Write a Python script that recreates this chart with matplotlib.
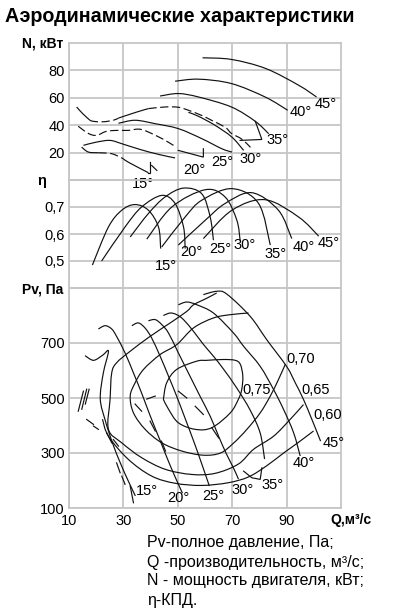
import matplotlib
matplotlib.use("Agg")
import matplotlib.pyplot as plt
from matplotlib.path import Path
from matplotlib.patches import PathPatch

plt.rcParams['font.family'] = ['Liberation Sans', 'DejaVu Sans']

# ---------------- axes / ticks ----------------
Q_LIM = (10, 110)
Q_TICKS = [10, 30, 50, 70, 90]
Q_TICK_LABELS = ['10', '30', '50', '70', '90']
N_LIM = (0, 100)
N_TICKS = [20, 40, 60, 80]
ETA_LIM = (0.4, 0.8)
ETA_TICKS = [0.5, 0.6, 0.7]
ETA_TICK_LABELS = ['0,5', '0,6', '0,7']
PV_LIM = (100, 900)
PV_TICKS = [100, 300, 500, 700]

TITLE = 'Аэродинамические характеристики'
NOTES = ['Pv-полное давление, Па;', 'Q -производительность, м³/с;',
         'N - мощность двигателя, кВт;', 'η-КПД.']

ANGLES = ['15°', '20°', '25°', '30°', '35°', '40°', '45°']

# ---------------- power N(Q) ----------------
n45_q = [59.1, 69.7, 82.3, 94.4, 101.0]
n45_n = [89.2, 88.0, 81.4, 69.2, 60.6]
n40_q = [49.0, 57.6, 69.7, 82.1, 90.4]
n40_n = [72.1, 73.6, 70.4, 60.6, 50.9]
n35_q = [43.5, 50.2, 57.6, 69.7, 78.5, 83.4]
n35_n = [61.3, 63.1, 60.6, 53.3, 42.8, 33.8]
n35_box_q = [78.5, 80.9, 72.9]
n35_box_n = [42.8, 29.6, 28.9]
# long curve with dip (solid / dashed pieces)
n30a_q = [12.8, 15.0, 17.7]
n30a_n = [53.3, 48.5, 43.6]
n30b_q = [17.7, 19.0, 22.6, 26.3, 28.2]
n30b_n = [43.6, 42.8, 42.5, 43.6, 45.2]
n30c_q = [28.2, 34.9, 39.2]
n30c_n = [45.2, 49.6, 52.1]
n30d_q = [39.2, 45.3, 50.2, 53.9, 58.7, 62.4, 67.5, 69.7, 73.1, 75.3, 76.7]
n30d_n = [52.1, 53.3, 53.1, 50.9, 47.2, 43.6, 38.4, 34.0, 30.4, 26.7, 23.8]
n30e_q = [53.9, 57.6, 63.7, 69.9, 74.2]
n30e_n = [49.4, 46.5, 39.9, 31.3, 21.6]
n25_q = [28.2, 34.3, 41.7, 50.2, 58.8, 66.2, 69.9]
n25_n = [41.4, 43.6, 41.1, 37.5, 30.2, 22.8, 20.4]
n25d_q = [13.4, 17.1, 20.1, 23.7, 27.4, 31.8, 36.3, 41.8, 46.6, 49.5]
n25d_n = [39.2, 34.0, 32.6, 35.5, 36.2, 36.2, 37.0, 32.6, 27.5, 23.8]
n20_q = [15.3, 20.2, 25.1, 29.4, 36.1, 42.9, 49.0]
n20_n = [25.3, 27.7, 28.9, 26.5, 22.3, 18.7, 16.1]
n20_box_q = [50.2, 59.4, 59.4]
n20_box_n = [21.6, 16.7, 22.8]
n20_tail_q = [40.4, 42.3]
n20_tail_n = [10.6, 7.0]
n15a_q = [14.65, 17.1, 20.8]
n15a_n = [24.0, 20.4, 19.9]
n15b_q = [20.8, 25.7, 30.0]
n15b_n = [19.9, 19.2, 15.5]
n15c_q = [30.0, 31.8, 39.2]
n15c_n = [15.5, 13.0, 5.3]
n15_box_q = [39.2, 39.6, 39.6]
n15_box_n = [5.3, 5.3, 13.0]
n_lab_q = [37.0, 56.1, 66.2, 76.6, 86.7, 95.3, 104.5]
n_lab_n = [-2.9, 7.0, 13.2, 15.4, 28.9, 49.8, 55.6]

# ---------------- efficiency eta(Q) ----------------
e15_q = [18.6, 24.5, 29.4, 34.3, 39.2, 42.9, 43.7]
e15_e = [0.485, 0.626, 0.688, 0.709, 0.688, 0.626, 0.546]
e20_q = [22.0, 30.6, 36.7, 44.1, 49.0, 52.1, 52.7]
e20_e = [0.500, 0.626, 0.700, 0.743, 0.713, 0.626, 0.546]
e25_q = [32.5, 39.2, 45.3, 52.1, 58.8, 61.9, 63.1]
e25_e = [0.589, 0.676, 0.737, 0.770, 0.749, 0.663, 0.577]
e30_q = [38.6, 47.8, 60.1, 67.4, 71.7, 72.9]
e30_e = [0.581, 0.700, 0.764, 0.737, 0.651, 0.577]
e35_q = [44.1, 52.7, 58.8, 69.9, 79.7, 84.0]
e35_e = [0.552, 0.663, 0.725, 0.768, 0.713, 0.559]
e40_q = [50.2, 60.1, 67.4, 77.2, 87.0, 91.9]
e40_e = [0.559, 0.651, 0.713, 0.753, 0.688, 0.583]
e45_q = [59.4, 69.9, 82.1, 94.4, 101.8]
e45_e = [0.583, 0.688, 0.727, 0.663, 0.592]
e_lab_q = [45.5, 55.0, 65.5, 74.7, 86.1, 96.2, 105.4]
e_lab_e = [0.481, 0.535, 0.546, 0.559, 0.527, 0.553, 0.566]

# ---------------- pressure Pv(Q) ----------------
p15_q = [15.9, 19.0, 22.3, 24.5, 22.6, 21.5, 23.4, 26.0, 28.9, 31.8, 34.4]
p15_p = [654, 637, 655, 670, 590, 496, 416, 336, 263, 198, 144]
p20_q = [20.8, 23.3, 25.7, 27.5, 30.6, 33.7, 36.7, 39.9, 43.6, 47.3, 50.2, 51.7]
p20_p = [751, 763, 751, 724, 664, 591, 518, 434, 343, 252, 187, 154]
p25_q = [33.1, 35.5, 38.0, 40.4, 43.5, 46.6, 49.6, 52.8, 56.1, 59.1, 61.6]
p25_p = [763, 773, 754, 718, 652, 579, 506, 423, 336, 252, 180]
p30_q = [39.2, 41.7, 44.1, 46.6, 50.2, 54.5, 58.2, 61.9, 65.0, 67.9, 70.5, 72.3]
p30_p = [781, 785, 767, 736, 664, 579, 506, 434, 361, 296, 245, 205]
p35_q = [44.7, 47.2, 49.6, 52.1, 55.8, 59.4, 63.1, 66.8, 71.7, 76.6, 80.3, 81.9]
p35_p = [800, 809, 803, 785, 742, 695, 652, 605, 536, 456, 372, 278]
p40_q = [50.2, 53.3, 57.0, 63.1, 70.5, 74.2, 80.3, 85.2, 88.9, 92.6, 95.0]
p40_p = [839, 849, 839, 809, 736, 688, 615, 531, 458, 373, 289]
p45_q = [59.4, 64.3, 68.0, 76.6, 82.7, 90.0, 93.2, 96.2, 99.3, 102.5]
p45_p = [876, 888, 878, 797, 712, 615, 555, 495, 422, 343]
p_box_q = [74.2, 77.2, 80.3, 80.9]
p_box_p = [234, 210, 204, 246]
p_lab_q = [38.5, 50.1, 62.9, 73.8, 84.8, 96.2, 107.3]
p_lab_p = [162, 138, 143, 167, 185, 265, 338]

# efficiency iso-lines on the Pv field
k75_q = [44.7, 45.9, 49.6, 57.0, 60.7, 66.8, 71.1, 73.0, 73.9, 73.5, 72.3, 69.3, 62.5, 56.4, 50.2, 46.6, 44.7]
k75_p = [495, 555, 604, 634, 637, 640, 637, 622, 579, 531, 496, 446, 392, 386, 410, 459, 495]
k70_q = [76.0, 69.3, 63.1, 55.8, 49.6, 43.5, 37.4, 34.3, 32.5, 33.7, 38.0, 44.1, 51.5, 59.4, 65.7, 70.5, 75.4, 80.3, 84.0, 87.0, 89.5]
k70_p = [809, 803, 791, 755, 694, 658, 604, 555, 507, 446, 386, 337, 307, 292, 300, 336, 386, 446, 507, 567, 622]
k65_q = [64.3, 60.7, 55.8, 53.3, 47.2, 39.8, 32.5, 27.5, 25.7, 25.1, 24.5, 29.4, 36.7, 45.3, 55.1, 63.7, 72.3, 77.8, 85.2, 91.3, 96.2]
k65_p = [882, 863, 839, 815, 773, 724, 670, 628, 591, 495, 386, 337, 283, 241, 222, 226, 260, 313, 361, 422, 476]
k60_q = [22.3, 24.5, 31.8, 40.4, 49.0, 58.8, 68.6, 76.0, 82.6, 88.9, 94.4, 99.9]
k60_p = [423, 361, 277, 216, 190, 182, 192, 213, 253, 300, 339, 380]
k_labels = ['0,75', '0,70', '0,65', '0,60']
k_lab_q = [78.9, 95.3, 100.7, 105.1]
k_lab_p = [528, 643, 528, 437]

# short dashed stall strokes (pairs of end points)
d_q1 = [13.4, 14.7, 16.0, 16.5, 19.0, 23.9, 26.3, 27.5, 29.4, 32.5, 38.6, 50.2, 56.4, 62.5, 34.3, 39.8, 44.0]
d_p1 = [452, 459, 478, 422, 398, 373, 349, 264, 216, 180, 496, 525, 470, 392, 478, 416, 343]
d_q2 = [15.3, 16.5, 17.4, 19.0, 20.8, 25.7, 28.2, 28.8, 30.6, 33.7, 41.7, 53.3, 59.4, 65.0, 36.7, 41.7, 45.5]
d_p2 = [525, 532, 532, 404, 386, 337, 325, 228, 186, 119, 507, 500, 440, 355, 452, 380, 307]

# ---------------- figure ----------------
W, H = 399, 610
fig = plt.figure(figsize=(W / 100, H / 100), dpi=100)

INK = '#111111'
GRID = '#c6c6c6'
LW = 0.85
DASH = (0, (7, 3))


def fx(px):
    return px / W


def fy(py):
    return 1 - py / H


def make_axes(top, bottom):
    ax = fig.add_axes([fx(69), fy(bottom), fx(341) - fx(69), (bottom - top) / H])
    ax.set_xlim(*Q_LIM)
    ax.set_xticks(Q_TICKS)
    ax.grid(True, color=GRID, lw=1.3)
    ax.set_axisbelow(True)
    ax.patch.set_visible(False)
    for s in ax.spines.values():
        s.set_color(GRID)
        s.set_linewidth(1.3)
    ax.tick_params(length=0, labelsize=10.5, pad=3, colors='black')
    return ax


axN = make_axes(43, 180)
axE = make_axes(180, 288)
axP = make_axes(288, 508)

axN.set_ylim(*N_LIM)
axN.set_yticks(N_TICKS)
axN.set_xticklabels([])
axE.set_ylim(*ETA_LIM)
axE.set_yticks(ETA_TICKS)
axE.set_yticklabels(ETA_TICK_LABELS)
axE.set_xticklabels([])
axP.set_ylim(*PV_LIM)
axP.set_yticks(PV_TICKS)
axP.set_xticklabels(Q_TICK_LABELS)
axP.tick_params(axis='x', pad=4)


def smooth_path(q, v):
    """Smooth rendering path (cubic Bezier, Catmull-Rom tangents) through the read points."""
    pts = list(zip(q, v))
    n = len(pts)
    if n < 3:
        return Path(pts)
    verts = [pts[0]]
    codes = [Path.MOVETO]
    for i in range(n - 1):
        p0 = pts[i - 1] if i > 0 else pts[i]
        p1 = pts[i]
        p2 = pts[i + 1]
        p3 = pts[i + 2] if i + 2 < n else pts[i + 1]
        c1 = (p1[0] + (p2[0] - p0[0]) / 6.0, p1[1] + (p2[1] - p0[1]) / 6.0)
        c2 = (p2[0] - (p3[0] - p1[0]) / 6.0, p2[1] - (p3[1] - p1[1]) / 6.0)
        verts += [c1, c2, p2]
        codes += [Path.CURVE4] * 3
    return Path(verts, codes)


def draw(ax, q, v, dashed=False, smooth=True):
    if smooth:
        patch = PathPatch(smooth_path(q, v), fill=False, edgecolor=INK, lw=LW,
                          ls=DASH if dashed else '-', clip_on=False,
                          joinstyle='round', capstyle='butt')
        ax.add_patch(patch)
    else:
        ax.plot(q, v, color=INK, lw=LW, ls=DASH if dashed else '-',
                solid_joinstyle='miter', clip_on=False)


# N panel
draw(axN, n45_q, n45_n)
draw(axN, n40_q, n40_n)
draw(axN, n35_q, n35_n)
draw(axN, n35_box_q, n35_box_n, smooth=False)
draw(axN, n30a_q, n30a_n)
draw(axN, n30b_q, n30b_n, dashed=True)
draw(axN, n30c_q, n30c_n)
draw(axN, n30d_q, n30d_n, dashed=True)
draw(axN, n30e_q, n30e_n)
draw(axN, n25_q, n25_n)
draw(axN, n25d_q, n25d_n, dashed=True)
draw(axN, n20_q, n20_n)
draw(axN, n20_box_q, n20_box_n, smooth=False)
draw(axN, n20_tail_q, n20_tail_n, smooth=False)
draw(axN, n15a_q, n15a_n)
draw(axN, n15b_q, n15b_n, dashed=True)
draw(axN, n15c_q, n15c_n)
draw(axN, n15_box_q, n15_box_n, smooth=False)
for lab, q, v in zip(ANGLES, n_lab_q, n_lab_n):
    axN.text(q, v, lab, fontsize=10.5, ha='center', va='center', zorder=5)

# eta panel
for q, e in [(e15_q, e15_e), (e20_q, e20_e), (e25_q, e25_e), (e30_q, e30_e),
             (e35_q, e35_e), (e40_q, e40_e), (e45_q, e45_e)]:
    draw(axE, q, e)
for lab, q, v in zip(ANGLES, e_lab_q, e_lab_e):
    axE.text(q, v, lab, fontsize=10.5, ha='center', va='center')

# Pv panel
for q, p in [(p15_q, p15_p), (p20_q, p20_p), (p25_q, p25_p), (p30_q, p30_p),
             (p35_q, p35_p), (p40_q, p40_p), (p45_q, p45_p)]:
    draw(axP, q, p)
draw(axP, p_box_q, p_box_p, smooth=False)
for q, p in [(k75_q, k75_p), (k70_q, k70_p), (k65_q, k65_p), (k60_q, k60_p)]:
    draw(axP, q, p)
for q1, p1, q2, p2 in zip(d_q1, d_p1, d_q2, d_p2):
    draw(axP, [q1, q2], [p1, p2], smooth=False)
for lab, q, v in zip(ANGLES, p_lab_q, p_lab_p):
    axP.text(q, v, lab, fontsize=10.5, ha='center', va='center')
for lab, q, v in zip(k_labels, k_lab_q, k_lab_p):
    axP.text(q, v, lab, fontsize=10.5, ha='center', va='center')

# titles and axis names
fig.text(fx(5), fy(16), TITLE, fontsize=14.2, weight='bold', ha='left', va='center')
fig.text(fx(63), fy(44), 'N, кВт', fontsize=10, weight='bold', ha='right', va='center')
fig.text(fx(46), fy(181), 'η', fontsize=10.5, weight='bold', ha='right', va='center')
fig.text(fx(63), fy(290), 'Pv, Па', fontsize=10, weight='bold', ha='right', va='center')
fig.text(fx(330), fy(520), 'Q,м³/с', fontsize=10, weight='bold', ha='left', va='center')

for i, line in enumerate(NOTES):
    fig.text(fx(147), fy(543 + 19 * i), line, fontsize=11.5, ha='left', va='center')

fig.savefig('out.png', dpi=100)
